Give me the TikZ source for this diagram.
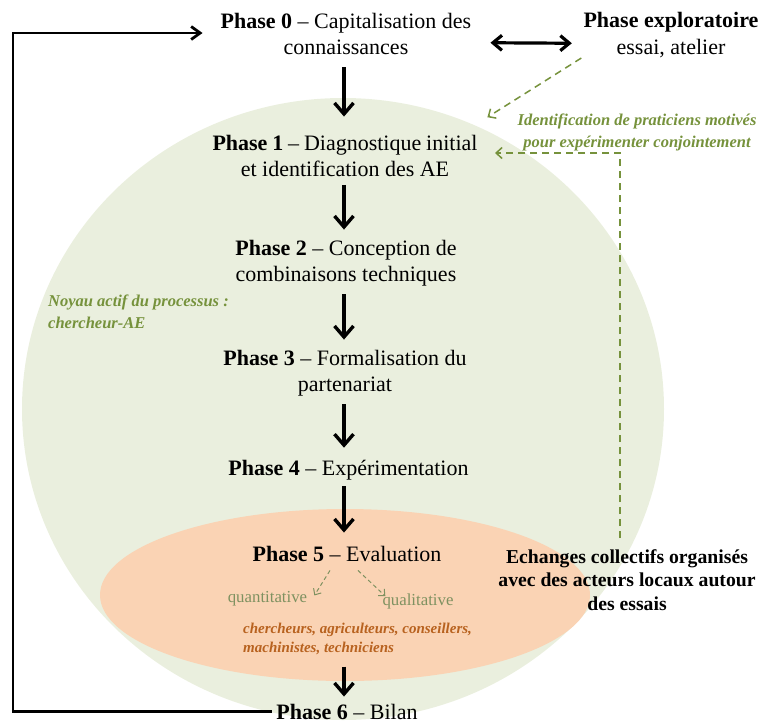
\documentclass[tikz,border=0pt]{standalone}
\usepackage{fontspec}
\setmainfont{Liberation Serif}
\usetikzlibrary{arrows.meta}
\definecolor{bggreen}{HTML}{EAEFDE}
\definecolor{bgorange}{HTML}{FAD3B4}
\definecolor{olive}{HTML}{76923C}
\definecolor{greytxt}{HTML}{7E9160}
\definecolor{rust}{HTML}{B8621F}
\tikzset{
  phase/.style={align=center, inner sep=2pt, font=\fontsize{22}{26.5}\selectfont},
  bigarrow/.style={line width=3.4pt, -{Straight Barb[length=11pt,width=19pt]}},
  dblarrow/.style={line width=3.2pt, {Straight Barb[length=9pt,width=15pt]}-{Straight Barb[length=9pt,width=15pt]}},
  loopline/.style={line width=2.8pt, -{Straight Barb[length=9pt,width=13pt]}},
  greendash/.style={olive, line width=1.5pt, dash pattern=on 7pt off 5pt, -{Straight Barb[length=6pt,width=11pt]}},
  smalldash/.style={greytxt, line width=1pt, dash pattern=on 4pt off 3pt, -{Straight Barb[length=5pt,width=9pt]}},
  greennote/.style={olive, font=\fontsize{16.5}{22}\selectfont\bfseries\itshape, inner sep=1pt},
  smallgreen/.style={greytxt, font=\fontsize{16.8}{20}\selectfont, inner sep=1pt},
  rustnote/.style={rust, font=\fontsize{15}{19}\selectfont\bfseries\itshape, inner sep=1pt, align=left},
  boldnote/.style={align=center, font=\fontsize{19.7}{23.5}\selectfont\bfseries, inner sep=1pt}
}
\begin{document}
\begin{tikzpicture}[x=1pt,y=-1pt]
\useasboundingbox (0,0) rectangle (764,724);
\fill[bggreen] (343,409) ellipse [x radius=321, y radius=311];
\fill[bgorange] (345,595) ellipse [x radius=245, y radius=86];

\coordinate (axis) at (344,0);

\node[phase] (p0) at (346,33.75) {\textbf{Phase 0} -- Capitalisation des\\connaissances};
\node[phase] (pe) at (671,35.25) {\textbf{Phase exploratoire}\\essai, atelier};
\node[phase] (p1) at (345,155.75) {\makebox[265pt][s]{\textbf{Phase 1} -- Diagnostique initial}\\et identification des AE};
\node[phase] (p2) at (346,263) {\textbf{Phase 2} -- Conception de\\combinaisons techniques};
\node[phase] (p3) at (345,373) {\textbf{Phase 3} -- Formalisation du\\partenariat};
\node[phase] (p4) at (348.5,469.9) {\textbf{Phase 4} -- Expérimentation};
\node[phase] (p5) at (347,553.5) {\textbf{Phase 5} -- Evaluation};
\node[phase] (p6) at (347,711.5) {\textbf{Phase 6} -- Bilan};

\node[greennote, align=center] (ident) at (637,132) {Identification de praticiens motivés\\pour expérimenter conjointement};
\node[greennote, align=left, anchor=north west] (noyau) at (47,293.5) {Noyau actif du processus :\\chercheur-AE};
\node[smallgreen] (quant) at (267.5,599) {quantitative};
\node[smallgreen] (qual) at (418,601) {qualitative};
\node[rustnote, anchor=north west] (acteurs) at (242,621.5) {chercheurs, agriculteurs, conseillers,\\machinistes, techniciens};
\node[boldnote] (ech) at (627,579.75) {Echanges collectifs organisés\\avec des acteurs locaux autour\\des essais};

% main arrows
\draw[bigarrow] ([shift={(0,10.5)}]axis |- p0.south) -- ([shift={(0,-16)}]axis |- p1.north);
\draw[bigarrow] ([shift={(0,6)}]axis |- p1.south) -- ([shift={(0,-8)}]axis |- p2.north);
\draw[bigarrow] ([shift={(0,6)}]axis |- p2.south) -- ([shift={(0,-8)}]axis |- p3.north);
\draw[bigarrow] ([shift={(0,6)}]axis |- p3.south) -- ([shift={(0,-10)}]axis |- p4.north);
\draw[bigarrow] ([shift={(0,4)}]axis |- p4.south) -- ([shift={(0,-11)}]axis |- p5.north);
\draw[bigarrow] ([shift={(0,11)}]axis |- acteurs.south) -- ([shift={(0,-5)}]axis |- p6.north);

% double arrow
\draw[dblarrow] ([shift={(17,9)}]p0.east) -- ([shift={(-9.5,8)}]pe.west);

% return loop
\coordinate (lt) at (13,33);
\draw[loopline, shorten >=16pt] ([shift={(-2,0)}]p6.west) -| (lt) -- (p0.west |- lt);

% green dashed connectors
\coordinate (g2) at (495,153);
\draw[greendash] ([shift={(0,-2)}]pe.south west) -- ([shift={(-29,5)}]ident.north west);
\draw[greendash] ([shift={(-7,-10)}]ech.north) |- (g2);

% evaluation branches
\draw[smalldash] ([shift={(-17,7)}]p5.south) -- ([shift={(6,5)}]quant.north east);
\draw[smalldash] ([shift={(11,7)}]p5.south) -- ([shift={(4,4)}]qual.north west);
\end{tikzpicture}
\end{document}
